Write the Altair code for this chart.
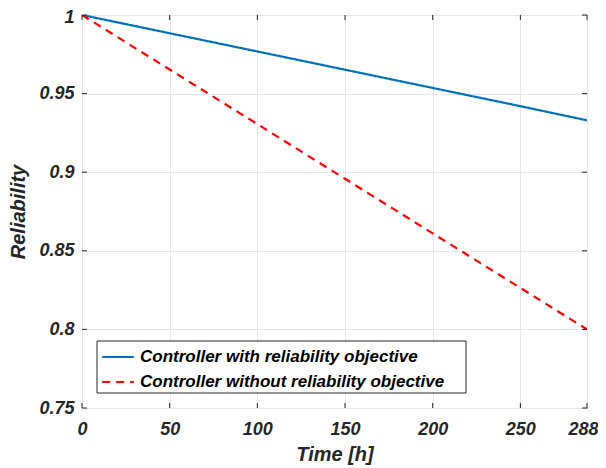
import altair as alt
import pandas as pd

time_h = [0, 50, 100, 150, 200, 250, 288]
with_obj = [1.0, 0.9884, 0.9768, 0.9652, 0.9536, 0.9420, 0.9330]
without_obj = [1.0, 0.9653, 0.9306, 0.8958, 0.8611, 0.8264, 0.8000]
series_names = ["Controller with reliability objective",
                "Controller without reliability objective"]
x_ticks = [0, 50, 100, 150, 200, 250, 288]
y_ticks = [0.75, 0.8, 0.85, 0.9, 0.95, 1.0]

rows = []
for t, a, b in zip(time_h, with_obj, without_obj):
    rows.append({"t": t, "R": a, "s": series_names[0]})
    rows.append({"t": t, "R": b, "s": series_names[1]})
df = pd.DataFrame(rows)

W, H = 505, 393
FONT = "Liberation Sans"
DARK = "#262626"

xscale = alt.Scale(domain=[0, 288], nice=False, zero=False)
yscale = alt.Scale(domain=[0.75, 1.0], nice=False, zero=False)
xaxis = alt.Axis(values=x_ticks, title="Time [h]", grid=True, labelFlush=False,
                 labelOverlap=False, labelPadding=12, titlePadding=6,
                 labelOffset={"condition": {"test": "datum.value == 288", "value": -4},
                              "value": 0})
yaxis = alt.Axis(values=y_ticks, title="Reliability", grid=True, labelFlush=False,
                 labelOverlap=False, format="~g", labelPadding=8, titlePadding=10,
                 labelOffset={"condition": {"test": "datum.value == 1", "value": 2},
                              "value": 0})

leg = alt.Legend(orient="none", legendX=15, legendY=321,
                 title=None, symbolType="stroke",
                 symbolSize=1000, symbolStrokeWidth=2,
                 labelFont=FONT, labelFontSize=17,
                 labelFontWeight="bold", labelFontStyle="italic",
                 labelColor="black", labelOffset=5,
                 padding=4, rowPadding=-8, labelLimit=400)

lines = alt.Chart(df).mark_line(strokeWidth=2.2, clip=True).encode(
    x=alt.X("t:Q", scale=xscale, axis=xaxis),
    y=alt.Y("R:Q", scale=yscale, axis=yaxis),
    color=alt.Color("s:N", scale=alt.Scale(domain=series_names,
                                           range=["#0072BD", "#FF0000"]),
                    legend=leg),
    strokeDash=alt.StrokeDash("s:N", scale=alt.Scale(domain=series_names,
                                                     range=[[1, 0], [8, 6]]),
                              legend=leg),
)

legend_box = alt.Chart(pd.DataFrame({"a": [0]})).mark_rect(
    fill="white", stroke=DARK, strokeWidth=1).encode(
    x=alt.value(15), x2=alt.value(384), y=alt.value(326), y2=alt.value(378))

xt = pd.DataFrame({"t": x_ticks})
yt = pd.DataFrame({"R": y_ticks})
tick_b = alt.Chart(xt).mark_rule(color=DARK).encode(
    x=alt.X("t:Q", scale=xscale, axis=xaxis), y=alt.value(H), y2=alt.value(H - 5))
tick_t = alt.Chart(xt).mark_rule(color=DARK).encode(
    x=alt.X("t:Q", scale=xscale, axis=xaxis), y=alt.value(0), y2=alt.value(5))
tick_l = alt.Chart(yt).mark_rule(color=DARK).encode(
    y=alt.Y("R:Q", scale=yscale, axis=yaxis), x=alt.value(0), x2=alt.value(5))
tick_r = alt.Chart(yt).mark_rule(color=DARK).encode(
    y=alt.Y("R:Q", scale=yscale, axis=yaxis), x=alt.value(W), x2=alt.value(W - 5))

chart = alt.layer(legend_box, lines, tick_b, tick_t, tick_l, tick_r).properties(
    width=W, height=H,
    autosize=alt.AutoSizeParams(type="none"),
    padding={"left": 74, "top": 7, "right": 11, "bottom": 60},
    background="white",
).configure_view(stroke=DARK, strokeWidth=1).configure_axis(
    domain=False, ticks=False, gridColor="#e6e6e6", gridWidth=1,
    labelFont=FONT, labelFontSize=18, labelFontWeight="bold", labelFontStyle="italic",
    labelColor=DARK, titleFont=FONT, titleFontSize=20, titleFontWeight="bold",
    titleFontStyle="italic", titleColor=DARK,
)

chart.save("out.html", embed_options={"renderer": "svg", "actions": False})
